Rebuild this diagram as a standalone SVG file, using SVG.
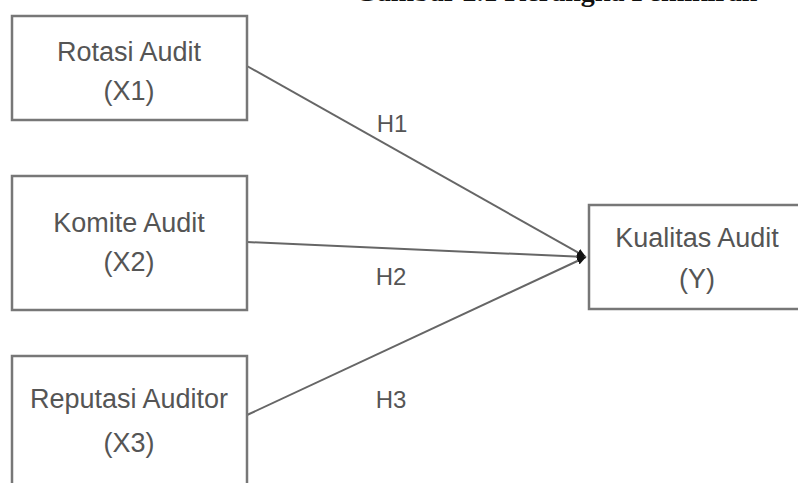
<svg xmlns="http://www.w3.org/2000/svg" width="798" height="483" viewBox="0 0 798 483">
<style>
.box{fill:#fff;stroke:#777;stroke-width:2.5}
.t{font-family:"Liberation Sans",Arial,sans-serif;font-size:27px;fill:#555;text-anchor:middle}
.h{font-family:"Liberation Sans",Arial,sans-serif;font-size:24px;fill:#555;text-anchor:middle}
.ln{stroke:#666;stroke-width:2;fill:none}
.title{font-family:"Liberation Serif","Times New Roman",serif;font-size:28px;font-weight:bold;fill:#111}
</style>
<defs>
<marker id="ah" markerWidth="10" markerHeight="10" refX="9" refY="5" orient="auto" markerUnits="userSpaceOnUse">
<path d="M0,1 L9,5 L0,9 Z" fill="#111"/>
</marker>
</defs>
<rect width="798" height="483" fill="#fff"/>
<text class="title" x="355" y="1">Gambar 2.1 Kerangka Pemikiran</text>
<g id="connectors">
<line class="ln" x1="247" y1="66" x2="586" y2="257" marker-end="url(#ah)"/>
<line class="ln" x1="247" y1="242" x2="586" y2="257" marker-end="url(#ah)"/>
<line class="ln" x1="247" y1="415" x2="586" y2="257" marker-end="url(#ah)"/>
<text class="h" x="392" y="132">H1</text>
<text class="h" x="391" y="285">H2</text>
<text class="h" x="391" y="408">H3</text>
</g>
<g id="x1">
<rect class="box" x="12" y="16" width="235" height="104"/>
<text class="t" x="129" y="61">Rotasi Audit</text>
<text class="t" x="129" y="100">(X1)</text>
</g>
<g id="x2">
<rect class="box" x="12" y="176" width="235" height="134"/>
<text class="t" x="129" y="232">Komite Audit</text>
<text class="t" x="129" y="271">(X2)</text>
</g>
<g id="x3">
<rect class="box" x="12" y="356" width="235" height="140"/>
<text class="t" x="129" y="408">Reputasi Auditor</text>
<text class="t" x="129" y="452">(X3)</text>
</g>
<g id="y">
<rect class="box" x="589" y="205" width="220" height="104"/>
<text class="t" x="697" y="247">Kualitas Audit</text>
<text class="t" x="697" y="288">(Y)</text>
</g>
</svg>
